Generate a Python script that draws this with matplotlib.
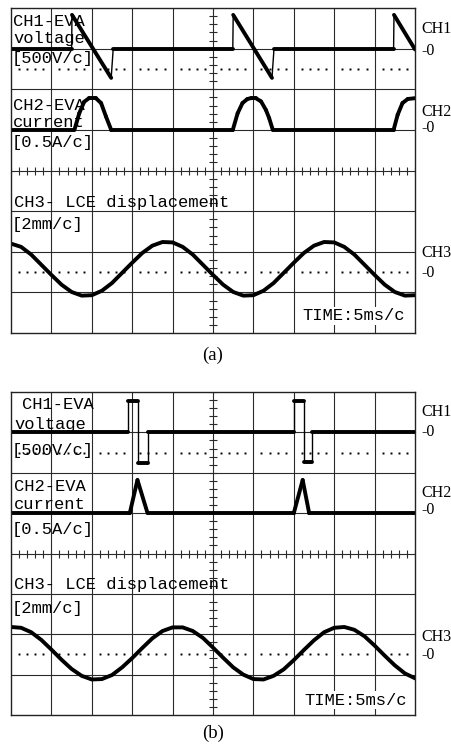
import numpy as np
import matplotlib
matplotlib.use("Agg")
import matplotlib.pyplot as plt
from matplotlib.collections import LineCollection

# scope coordinates: x in divisions (-5..5), y in divisions (-4..4)

# ---- panel (a) ----
a_ch1_x = [-5.0, -3.50, -3.49, -2.52, -2.47, 0.49, 0.50, 1.46, 1.51, 4.47, 4.48, 5.0]
a_ch1_y = [3.0, 3.0, 3.83, 2.28, 3.0, 3.0, 3.83, 2.28, 3.0, 3.0, 3.83, 2.98]

a_ch2_x = [-5.0, -3.43, -3.31, -3.19, -3.07, -2.90, -2.77, -2.65, -2.52,
           0.49, 0.61, 0.73, 0.85, 0.94, 1.06, 1.19, 1.31, 1.39, 1.48,
           4.47, 4.57, 4.69, 4.82, 5.0]
a_ch2_y = [1.0, 1.0, 1.41, 1.69, 1.78, 1.78, 1.66, 1.33, 1.0,
           1.0, 1.41, 1.66, 1.76, 1.78, 1.78, 1.70, 1.49, 1.29, 1.0,
           1.0, 1.37, 1.66, 1.76, 1.78]

ch3_x = np.linspace(-5, 5, 41)
a_ch3_y = [-1.80, -1.88, -2.07, -2.32, -2.57, -2.81, -2.99, -3.08, -3.07, -2.96,
           -2.77, -2.52, -2.27, -2.03, -1.85, -1.76, -1.77, -1.88, -2.07, -2.32,
           -2.57, -2.81, -2.99, -3.08, -3.07, -2.96, -2.77, -2.52, -2.27, -2.03,
           -1.85, -1.76, -1.77, -1.88, -2.07, -2.32, -2.57, -2.81, -2.99, -3.08,
           -3.07]

# ---- panel (b) ----
b_ch1_x = [-5.0, -2.11, -2.11, -1.86, -1.86, -1.62, -1.62, 2.0, 2.0, 2.26, 2.26, 2.45, 2.45, 5.0]
b_ch1_y = [3.0, 3.0, 3.78, 3.78, 2.25, 2.25, 3.0, 3.0, 3.78, 3.78, 2.27, 2.27, 3.0, 3.0]

b_ch2_x = [-5.0, -2.06, -1.87, -1.62, 2.0, 2.22, 2.38, 5.0]
b_ch2_y = [1.0, 1.0, 1.82, 1.0, 1.0, 1.82, 1.0, 1.0]

b_ch3_y = [-1.82, -1.84, -1.95, -2.14, -2.38, -2.63, -2.86, -3.03, -3.12, -3.11,
           -3.01, -2.82, -2.59, -2.34, -2.10, -1.92, -1.83, -1.83, -1.92, -2.09,
           -2.33, -2.58, -2.82, -3.00, -3.11, -3.12, -3.03, -2.87, -2.64, -2.39,
           -2.15, -1.95, -1.84, -1.82, -1.89, -2.05, -2.28, -2.53, -2.77, -2.97,
           -3.09]

MONO = "Liberation Mono"
SERIF = "Liberation Serif"
GRID = "#2a2a2a"


def draw_trace(ax, x, y, lw=2.8):
    x = np.asarray(x, float)
    y = np.asarray(y, float)
    pts = np.column_stack([x, y])
    segs = np.stack([pts[:-1], pts[1:]], axis=1)
    steep = np.abs(np.diff(y)) > 6 * np.abs(np.diff(x))
    widths = np.where(steep, 1.0, lw)
    lc = LineCollection(segs, linewidths=widths, colors="black", capstyle="round")
    ax.add_collection(lc)


def setup_grid(ax):
    ax.set_xlim(-5, 5)
    ax.set_ylim(-4, 4)
    ax.set_xticks([])
    ax.set_yticks([])
    for s in ax.spines.values():
        s.set_linewidth(1.0)
        s.set_color("#222222")
    for v in range(-4, 5):
        ax.axvline(v, color=GRID, lw=0.8, zorder=1)
    for h in range(-3, 4):
        ax.axhline(h, color=GRID, lw=0.8, zorder=1)
    tx = np.arange(-25, 26) * 0.2
    ax.plot(tx, np.zeros_like(tx), ls="none", marker="|", ms=6, mew=0.8, color=GRID)
    ty = np.arange(-20, 21) * 0.2
    ax.plot(np.zeros_like(ty), ty, ls="none", marker="_", ms=6, mew=0.8, color=GRID)
    k = np.arange(-24, 25)
    dots = k[k % 5 != 0] * 0.2
    for yy in (2.5, -2.5):
        ax.plot(dots, np.full_like(dots, yy), ls="none", marker="s", ms=1.4,
                color="black", mew=0)


def right_labels(ax, ys):
    for name, (yl, yz) in zip(["CH1", "CH2", "CH3"], ys):
        ax.text(5.17, yl, name, family=SERIF, fontsize=11.5, va="center", clip_on=False)
        ax.text(5.17, yz, "-0", family=SERIF, fontsize=11.5, va="center", clip_on=False)


fig = plt.figure(figsize=(4.51, 7.49), dpi=100)
ax_a = fig.add_axes([11 / 451, 1 - 333 / 749, 404 / 451, 325 / 749])
ax_b = fig.add_axes([11 / 451, 1 - 715 / 749, 404 / 451, 323 / 749])

# panel (a)
setup_grid(ax_a)
draw_trace(ax_a, a_ch1_x, a_ch1_y)
draw_trace(ax_a, a_ch2_x, a_ch2_y)
ax_a.plot(ch3_x, a_ch3_y, color="black", lw=2.8, solid_joinstyle="round")
fs = 12.3
ax_a.text(-4.95, 3.68, "CH1-EVA", family=MONO, fontsize=fs, va="center")
ax_a.text(-4.95, 3.24, "voltage", family=MONO, fontsize=fs, va="center")
ax_a.text(-4.98, 2.75, "[500V/c]", family=MONO, fontsize=fs, va="center")
ax_a.text(-4.95, 1.59, "CH2-EVA", family=MONO, fontsize=fs, va="center")
ax_a.text(-4.95, 1.19, "current", family=MONO, fontsize=fs, va="center")
ax_a.text(-4.98, 0.68, "[0.5A/c]", family=MONO, fontsize=fs, va="center")
ax_a.text(-4.93, -0.79, "CH3- LCE displacement", family=MONO, fontsize=fs, va="center")
ax_a.text(-4.98, -1.32, "[2mm/c]", family=MONO, fontsize=fs, va="center")
ax_a.text(2.22, -3.58, "TIME:5ms/c", family=MONO, fontsize=fs, va="center",
          bbox=dict(facecolor="white", edgecolor="none", pad=1))
right_labels(ax_a, [(3.49, 2.94), (1.44, 1.05), (-2.03, -2.52)])

# panel (b)
setup_grid(ax_b)
draw_trace(ax_b, b_ch1_x, b_ch1_y)
draw_trace(ax_b, b_ch2_x, b_ch2_y)
ax_b.plot(ch3_x, b_ch3_y, color="black", lw=2.8, solid_joinstyle="round")
ax_b.text(-4.74, 3.70, "CH1-EVA", family=MONO, fontsize=fs, va="center")
ax_b.text(-4.92, 3.20, "voltage", family=MONO, fontsize=fs, va="center")
ax_b.text(-4.98, 2.56, "[500V/c]", family=MONO, fontsize=fs, va="center")
ax_b.text(-4.92, 1.67, "CH2-EVA", family=MONO, fontsize=fs, va="center")
ax_b.text(-4.92, 1.22, "current", family=MONO, fontsize=fs, va="center")
ax_b.text(-4.98, 0.60, "[0.5A/c]", family=MONO, fontsize=fs, va="center")
ax_b.text(-4.93, -0.78, "CH3- LCE displacement", family=MONO, fontsize=fs, va="center")
ax_b.text(-4.98, -1.35, "[2mm/c]", family=MONO, fontsize=fs, va="center")
ax_b.text(2.25, -3.63, "TIME:5ms/c", family=MONO, fontsize=fs, va="center",
          bbox=dict(facecolor="white", edgecolor="none", pad=1))
right_labels(ax_b, [(3.51, 3.01), (1.50, 1.08), (-2.06, -2.51)])

fig.text(213 / 451, 1 - 355 / 749, "(a)", family=SERIF, fontsize=13.5, ha="center", va="center")
fig.text(213 / 451, 1 - 733 / 749, "(b)", family=SERIF, fontsize=13.5, ha="center", va="center")

fig.savefig("out.png", dpi=100)
